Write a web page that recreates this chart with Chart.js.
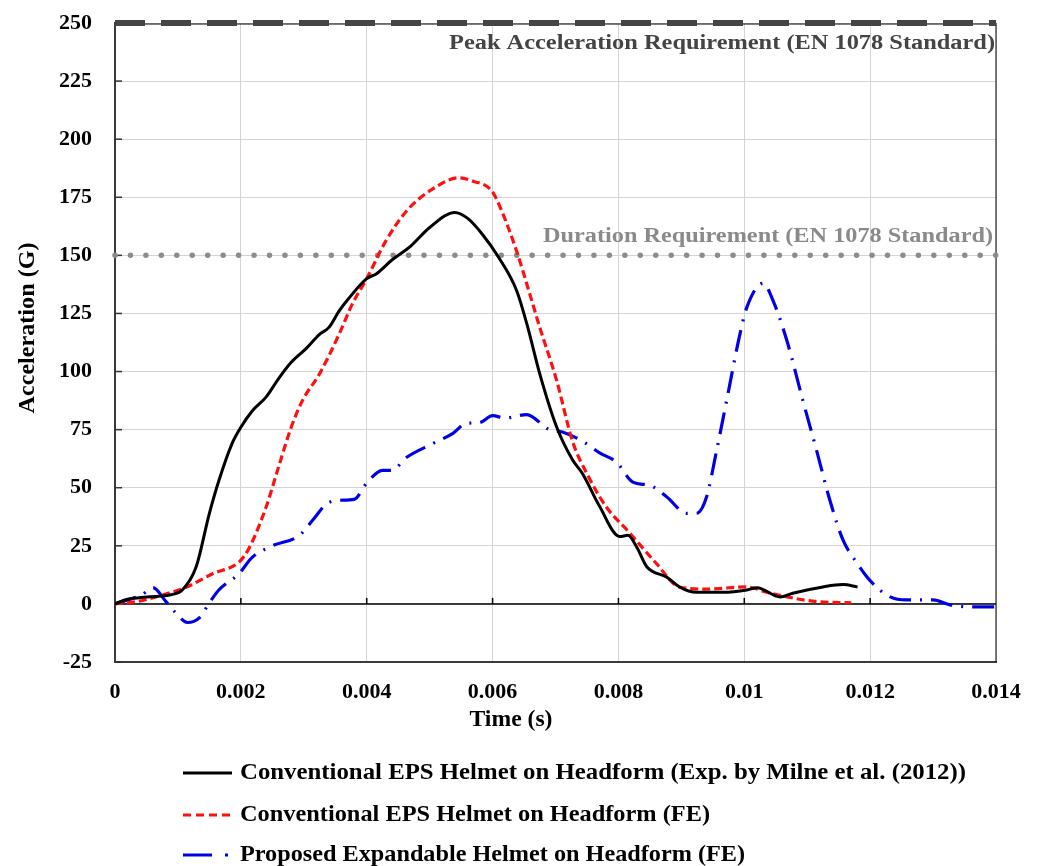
<!DOCTYPE html>
<html>
<head>
<meta charset="utf-8">
<script src="https://cdn.jsdelivr.net/npm/chart.js@4.4.1/dist/chart.umd.min.js"></script>
<style>
  html, body { margin: 0; padding: 0; background: #fff; }
  #wrap { width: 1038px; height: 866px; }
</style>
</head>
<body>
<div id="wrap"><canvas id="accel" width="1038" height="866"></canvas></div>
<script>
// axis ticks
const xTicks = [0, 0.002, 0.004, 0.006, 0.008, 0.01, 0.012, 0.014];
const xTickLabels = ["0", "0.002", "0.004", "0.006", "0.008", "0.01", "0.012", "0.014"];
const yTicks = [-25, 0, 25, 50, 75, 100, 125, 150, 175, 200, 225, 250];

// EN 1078 limits
const peakLimit = 250;
const durationLimit = 150;

const seriesNames = [
  "Conventional EPS Helmet on Headform (Exp. by Milne et al. (2012))",
  "Conventional EPS Helmet on Headform (FE)",
  "Proposed Expandable Helmet on Headform (FE)"
];

// experiment (black)
const expTime = [0, 0.0002, 0.0005, 0.0009, 0.00107, 0.00129, 0.0015, 0.00165, 0.00186, 0.002, 0.00218, 0.0024, 0.0026, 0.0028, 0.00304, 0.00325, 0.0034, 0.00356, 0.0037, 0.004, 0.00415, 0.0044, 0.0047, 0.005, 0.0054, 0.0056, 0.00584, 0.0061, 0.00638, 0.00655, 0.00675, 0.00702, 0.00727, 0.00743, 0.0077, 0.00802, 0.00815, 0.00829, 0.00845, 0.00877, 0.00897, 0.00924, 0.00966, 0.01004, 0.0102, 0.01057, 0.01077, 0.01125, 0.01157, 0.0118];
const expAccel = [0, 2, 3, 4, 6, 16, 39, 53, 69, 76, 83, 89, 97, 104, 110, 116, 119, 126, 131, 140, 142, 148, 154, 162, 168.5, 166, 159, 149, 135, 120, 99, 76, 62, 56, 42, 29, 29.5, 24.5, 16, 11.5, 7.3, 5, 5, 6, 7, 3, 4.6, 7.3, 8.3, 7.3];

// conventional FE (red)
const feTime = [0, 0.00035, 0.0009, 0.00112, 0.00155, 0.00197, 0.00213, 0.0024, 0.0026, 0.0028, 0.00298, 0.00325, 0.00356, 0.00377, 0.004, 0.0043, 0.00463, 0.00505, 0.00547, 0.00568, 0.00598, 0.0061, 0.00638, 0.00659, 0.00675, 0.00702, 0.00727, 0.0075, 0.0078, 0.00818, 0.0086, 0.00897, 0.0094, 0.01004, 0.01036, 0.01068, 0.01115, 0.0117];
const feAccel = [0, 1, 5, 7, 13, 18, 24, 41.6, 59, 76, 87.6, 99, 116, 129, 140, 156, 169, 178.6, 183.4, 182, 178, 172, 152, 133.5, 119, 96, 70, 56, 42, 30.5, 17.5, 7.3, 6.4, 7.3, 5, 3, 1, 0.5];

// expandable FE (blue)
const expandTime = [0, 0.00043, 0.0006, 0.00081, 0.00097, 0.00115, 0.00134, 0.0015, 0.00165, 0.00197, 0.00218, 0.0025, 0.00293, 0.00314, 0.00336, 0.00356, 0.0038, 0.004, 0.00425, 0.0044, 0.00463, 0.00505, 0.00537, 0.00558, 0.00579, 0.006, 0.0062, 0.00654, 0.0069, 0.00711, 0.00743, 0.0077, 0.00797, 0.00823, 0.0085, 0.00877, 0.00908, 0.00924, 0.0094, 0.00956, 0.00972, 0.00993, 0.01004, 0.0103, 0.01045, 0.01068, 0.01093, 0.01115, 0.01136, 0.01157, 0.01179, 0.012, 0.01232, 0.01258, 0.013, 0.01327, 0.01364, 0.014];
const expandAccel = [0, 4, 7, 1, -4, -8, -6, 0.5, 6, 13, 20, 25, 29.5, 36, 43, 44.6, 45, 52, 57.5, 57.5, 63, 69, 73.4, 77.7, 78, 81, 80, 81.5, 75, 74, 70, 65, 61, 52.4, 51, 46, 39, 39, 46, 66, 87.6, 116, 127.6, 138, 131, 113, 87.6, 66, 44.6, 27.4, 17.6, 10, 3, 1.7, 1.7, -0.4, -1.3, -1.3];

const FONT = '"Liberation Serif", "Times New Roman", serif';
const pts = (t, a) => t.map((v, i) => ({ x: v, y: a[i] }));
const xMin = xTicks[0], xMax = xTicks[xTicks.length - 1];

// draw text squeezed/stretched horizontally to a given width
function fitText(ctx, text, x, y, width, size, align, color) {
  ctx.save();
  ctx.font = "bold " + size + "px " + FONT;
  ctx.fillStyle = color;
  ctx.textBaseline = "middle";
  const w = ctx.measureText(text).width;
  const sx = width / w;
  let left = x;
  if (align === "right") left = x - width;
  else if (align === "center") left = x - width / 2;
  ctx.translate(left, y);
  ctx.scale(sx, 1);
  ctx.textAlign = "left";
  ctx.fillText(text, 0, 0);
  ctx.restore();
}

function seg(ctx, x1, y1, x2, y2) {
  ctx.beginPath(); ctx.moveTo(x1, y1); ctx.lineTo(x2, y2); ctx.stroke();
}

const decor = {
  id: "decor",
  beforeDatasetsDraw(chart) {
    const { ctx, chartArea: a, scales: { x, y } } = chart;
    ctx.save();
    const y0 = y.getPixelForValue(0);
    ctx.strokeStyle = "#000";
    ctx.lineWidth = 1.5;
    seg(ctx, a.left, y0, a.right, y0);
    xTicks.slice(1, -1).forEach(v => {
      const px = x.getPixelForValue(v);
      seg(ctx, px, y0, px, y0 - 6);
    });
    ctx.strokeStyle = "#333";
    yTicks.forEach(v => {
      const py = y.getPixelForValue(v);
      seg(ctx, a.left, py, a.left + 7, py);
    });
    ctx.strokeStyle = "#000";
    ctx.lineWidth = 1;
    seg(ctx, a.left, a.top + 1, a.right, a.top + 1);
    seg(ctx, a.right, a.top, a.right, a.bottom);
    ctx.restore();
  },
  afterDatasetsDraw(chart) {
    const { ctx } = chart;
    fitText(ctx, "Peak Acceleration Requirement (EN 1078 Standard)", 995, 44, 546, 20, "right", "#444");
    fitText(ctx, "Duration Requirement (EN 1078 Standard)", 993, 237, 450, 20, "right", "#8a8a8a");
  },
  afterDraw(chart) {
    const { ctx } = chart;
    // axis titles
    fitText(ctx, "Time (s)", 511, 720, 83, 23, "center", "#000");
    ctx.save();
    ctx.translate(28, 328);
    ctx.rotate(-Math.PI / 2);
    fitText(ctx, "Acceleration (G)", 0, 0, 171, 23, "center", "#000");
    ctx.restore();

    // legend
    const rows = [773, 815, 855];
    ctx.save();
    ctx.lineWidth = 3;
    ctx.strokeStyle = "#000";
    seg(ctx, 183, rows[0], 232, rows[0]);
    ctx.strokeStyle = "#ff1010";
    ctx.setLineDash([8, 5]);
    seg(ctx, 183, rows[1], 233, rows[1]);
    ctx.strokeStyle = "#0000e6";
    ctx.setLineDash([]);
    seg(ctx, 183, rows[2], 212, rows[2]);
    seg(ctx, 225, rows[2], 228, rows[2]);
    ctx.restore();
    fitText(ctx, seriesNames[0], 240, rows[0], 726, 24, "left", "#000");
    fitText(ctx, seriesNames[1], 240, rows[1], 470, 24, "left", "#000");
    fitText(ctx, seriesNames[2], 240, rows[2], 505, 24, "left", "#000");
  }
};

new Chart(document.getElementById("accel"), {
  type: "line",
  data: {
    datasets: [
      {
        label: seriesNames[0],
        data: pts(expTime, expAccel),
        borderColor: "#000",
        borderWidth: 3,
        cubicInterpolationMode: "monotone"
      },
      {
        label: seriesNames[1],
        data: pts(feTime, feAccel),
        borderColor: "#ff1010",
        borderWidth: 3.2,
        borderDash: [8, 4],
        cubicInterpolationMode: "monotone"
      },
      {
        label: seriesNames[2],
        data: pts(expandTime, expandAccel),
        borderColor: "#0000e6",
        borderWidth: 3.2,
        borderDash: [22, 9, 2, 9],
        cubicInterpolationMode: "monotone"
      },
      {
        label: "peak",
        data: [{ x: xMin, y: peakLimit }, { x: xMax, y: peakLimit }],
        borderColor: "#444",
        borderWidth: 6,
        borderDash: [30, 16],
        clip: 8
      },
      {
        label: "duration",
        data: [{ x: xMin, y: durationLimit }, { x: xMax, y: durationLimit }],
        borderColor: "#8c8c8c",
        borderWidth: 5.5,
        borderDash: [0, 15.45],
        borderCapStyle: "round",
        clip: 8
      }
    ]
  },
  options: {
    responsive: false,
    animation: false,
    devicePixelRatio: 1,
    layout: { padding: { top: 23, right: 42, left: 0, bottom: 0 } },
    elements: { point: { radius: 0 }, line: { fill: false } },
    plugins: { legend: { display: false }, tooltip: { enabled: false } },
    scales: {
      x: {
        type: "linear",
        min: xMin,
        max: xMax,
        afterBuildTicks: s => { s.ticks = xTicks.map(v => ({ value: v })); },
        afterFit: s => { s.height = 204; s.paddingLeft = 0; s.paddingRight = 0; },
        grid: { color: "#d4d4d4", lineWidth: 1, drawTicks: false },
        border: { display: true, color: "#3a3a3a", width: 2 },
        ticks: {
          padding: 17,
          maxRotation: 0,
          color: "#000",
          font: { family: FONT, weight: "bold", size: 22 },
          callback: (v, i) => xTickLabels[i]
        }
      },
      y: {
        type: "linear",
        min: yTicks[0],
        max: yTicks[yTicks.length - 1],
        afterBuildTicks: s => { s.ticks = yTicks.map(v => ({ value: v })); },
        afterFit: s => { s.width = 115; s.paddingTop = 0; s.paddingBottom = 0; },
        grid: { color: "#d4d4d4", lineWidth: 1, drawTicks: false },
        border: { display: true, color: "#3a3a3a", width: 2 },
        ticks: {
          padding: 23,
          color: "#000",
          font: { family: FONT, weight: "bold", size: 22 },
          callback: v => String(v)
        }
      }
    }
  },
  plugins: [decor]
});
</script>
</body>
</html>
